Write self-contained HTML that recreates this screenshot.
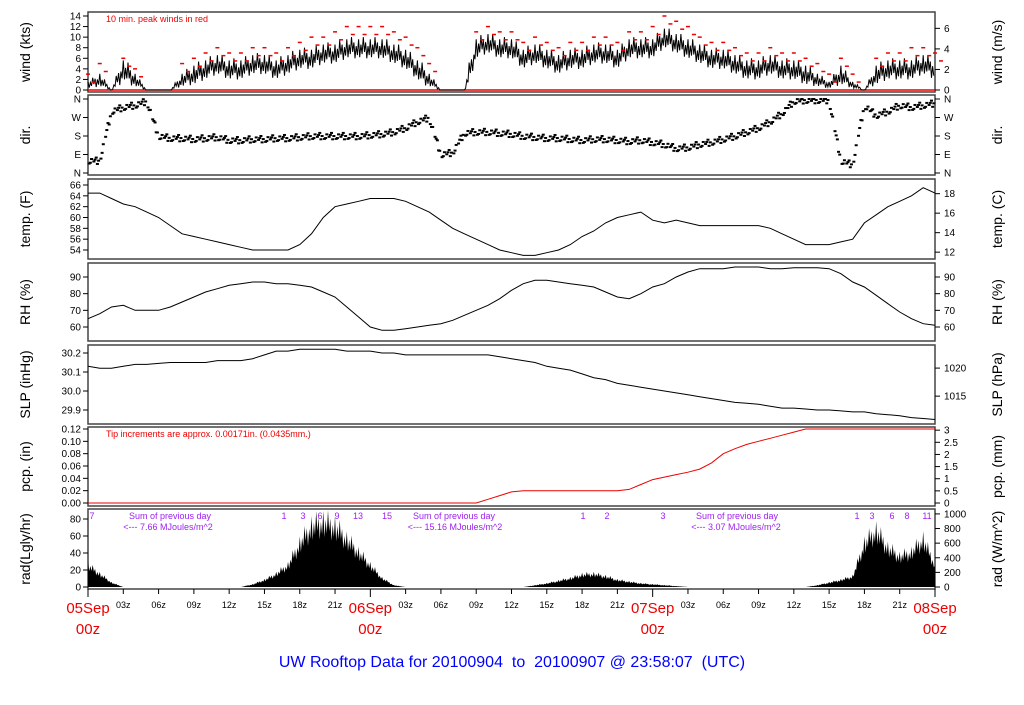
<!DOCTYPE html>
<html><head><meta charset="utf-8"><style>
body{margin:0;background:#fff;}
svg text{font-family:"Liberation Sans",sans-serif;white-space:pre;}
</style></head><body>
<svg id="c" width="1024" height="700" xmlns="http://www.w3.org/2000/svg"></svg>
<script>
const hours=[];for(let i=0;i<=72;i++)hours.push(i);
const windMean=[1,2,0,4,2,0,0,0,2,3,4,5,4,4,5,5,4,5,6,6,7,7,8,8,8,8,7,6,4,2,0,0,0,8,9,8,8,6,7,6,5,6,6,7,7,6,8,8,8,10,9,8,7,6,6,5,4,4,5,4,4,3,2,1,3,1,0,3,4,4,4,5,4];
const windPeak=[3,5,0,6,4,0,0,0,5,6,7,8,7,7,8,8,7,8,9,10,10,11,12,12,12,12,11,10,8,5,0,0,0,11,12,11,11,9,10,9,8,9,9,10,10,9,11,11,12,14,13,12,10,9,9,8,7,7,8,7,7,6,5,3,6,3,0,6,7,7,8,8,7];
const dirDeg=[60,60,300,320,330,350,180,170,170,165,170,175,160,160,165,165,170,170,175,180,180,180,180,180,185,190,200,220,250,270,90,100,195,200,200,195,190,180,175,170,170,165,160,165,165,160,155,160,150,140,120,125,140,150,165,180,200,220,250,290,350,355,355,355,60,40,330,280,300,330,320,330,340];
const tempF=[64.5,64.5,63.5,62.5,62,61,60,58.5,57,56.5,56,55.5,55,54.5,54,54,54,54,55,57,60,62,62.5,63,63.5,63.5,63.5,63,62,61,59.5,58,57,56,55,54,53.5,53,53,53.5,54,55,56.5,57.5,59,60,60.5,61,59.5,59,59.5,59,58.5,58.5,58.5,58.5,58.5,58.5,58,57,56,55,55,55,55.5,56,59,60.5,62,63,64,65.5,64.5];
const rh=[65,68,72,73,70,70,70,72,75,78,81,83,85,86,87,87,86,86,85,84,81,78,72,66,60,58,58,59,60,61,62,64,67,70,73,77,82,86,88,88,87,86,85,84,81,78,77,80,84,86,90,93,95,95,95,96,96,96,95,95,95.5,95.5,95.5,95,92,87,84,79,74,69,65,62,61];
const slp=[30.13,30.12,30.12,30.13,30.14,30.14,30.145,30.15,30.15,30.15,30.15,30.16,30.16,30.16,30.17,30.19,30.21,30.21,30.22,30.22,30.22,30.22,30.21,30.21,30.21,30.20,30.20,30.19,30.19,30.19,30.19,30.19,30.19,30.19,30.19,30.18,30.17,30.16,30.15,30.13,30.12,30.11,30.09,30.07,30.06,30.04,30.03,30.02,30.01,30.00,29.99,29.98,29.97,29.96,29.95,29.94,29.935,29.93,29.92,29.91,29.91,29.905,29.90,29.90,29.895,29.89,29.89,29.88,29.875,29.87,29.86,29.855,29.85];
const pcp=[0,0,0,0,0,0,0,0,0,0,0,0,0,0,0,0,0,0,0,0,0,0,0,0,0,0,0,0,0,0,0,0,0,0,0.006,0.012,0.018,0.02,0.02,0.02,0.02,0.02,0.02,0.02,0.02,0.02,0.022,0.03,0.038,0.042,0.046,0.05,0.055,0.065,0.08,0.088,0.095,0.1,0.105,0.11,0.115,0.12,0.12,0.12,0.12,0.12,0.12,0.12,0.12,0.12,0.12,0.12,0.12];
const rad=[25,15,5,0,0,0,0,0,0,0,0,0,0,0,3,8,15,25,50,70,75,70,55,40,25,10,2,0,0,0,0,0,0,0,0,0,0,0,2,4,7,10,14,15,12,8,6,4,3,2,1,0,0,0,0,0,0,0,0,0,0,0,2,5,8,12,50,65,45,35,40,55,25];
const timeTicks=["03z","06z","09z","12z","15z","18z","21z"];
const dateLabels=["05Sep","06Sep","07Sep","08Sep"];
{
const S=document.getElementById('c');const NS='http://www.w3.org/2000/svg';
function el(t,a,p){const e=document.createElementNS(NS,t);for(const k in a)e.setAttribute(k,a[k]);(p||S).appendChild(e);return e;}
function tx(s,x,y,a){const e=el('text',Object.assign({x:x,y:y,'font-size':10},a));e.textContent=s;return e;}
const X0=88,X1=935;const xs=h=>X0+(X1-X0)*h/72;
function lin(v0,y0,v1,y1){return v=>y0+(v-v0)*(y1-y0)/(v1-v0);}
function panel(name,ptop,pbot,lt,rt,ltitle,rtitle){
 const g=el('g',{});
 el('rect',{x:X0,y:ptop,width:X1-X0,height:pbot-ptop,fill:'none',stroke:'#444','stroke-width':1.5},g);
 lt.forEach(t=>{el('line',{x1:X0-5,x2:X0,y1:t[1],y2:t[1],stroke:'#000'},g);const e=tx(t[0],X0-7,t[1]+3.5,{'text-anchor':'end'});g.appendChild(e);});
 rt.forEach(t=>{el('line',{x1:X1,x2:X1+5,y1:t[1],y2:t[1],stroke:'#000'},g);const e=tx(t[0],X1+9,t[1]+3.5,{});g.appendChild(e);});
 const cy=(ptop+pbot)/2;
 const a=tx(ltitle,30,cy,{'font-size':14,'text-anchor':'middle',transform:`rotate(-90 30 ${cy})`});
 const b=tx(rtitle,1002,cy,{'font-size':14,'text-anchor':'middle',transform:`rotate(-90 1002 ${cy})`});
 return g;}
function line(arr,ys,col,g,w){const d=arr.map((v,i)=>(i?'L':'M')+xs(hours[i]).toFixed(1)+','+ys(v).toFixed(1)).join('');return el('path',{d:d,fill:'none',stroke:col,'stroke-width':w||1},g);}
const wig=[1.6,-1.8,0.6,-1.2,2.0,-0.8,1.0,-2.0,0.3,-1.4];

// wind
const wy=lin(0,90,14,16);
const gw=panel('wind-panel',12,92,[0,2,4,6,8,10,12,14].map(v=>[v,wy(v)]),[0,2,4,6].map(v=>[v,wy(v*1.94384)]),'wind (kts)','wind (m/s)');
el('line',{x1:X0,x2:X1,y1:wy(0),y2:wy(0),stroke:'#e00','stroke-width':1.5},gw);
let wd='';
for(let i=0;i<72;i++){for(let k=0;k<10;k++){const f=k/10;const m=windMean[i]+(windMean[i+1]-windMean[i])*f;let v=m>0.3?Math.max(0,m+wig[k]*Math.min(1,m/3)):0;wd+=(wd?'L':'M')+xs(i+f).toFixed(1)+','+wy(v).toFixed(1);}}
const wl=el('path',{d:wd,fill:'none',stroke:'#000','stroke-width':1},gw);
windPeak.forEach((v,i)=>{if(v>0){const m=el('line',{x1:xs(i)-2,x2:xs(i)+2,y1:wy(v),y2:wy(v),stroke:'#e00','stroke-width':1.5},gw);
 const m2=el('line',{x1:xs(i)+4,x2:xs(i)+8,y1:wy(v-1.5),y2:wy(v-1.5),stroke:'#e00','stroke-width':1.5},gw);}});
const wn=tx('10 min. peak winds in red',106,22,{fill:'#e00','font-size':9});

// dir
const dy=lin(0,173,360,99);
const dl=[['N',dy(0)],['E',dy(90)],['S',dy(180)],['W',dy(270)],['N',dy(360)]];
const gd=panel('dir-panel',95,175,dl,dl,'dir.','dir.');
const jd=[-14,8,-4,15,0,-10,5,-16],jx=[0.1,0.3,0.5,0.7,0.9,0.2,0.6,0.8];
dirDeg.forEach((v,i)=>{if(i===72)return;const n=dirDeg[i+1];for(let k=0;k<8;k++){const f=jx[k];let d=v+(n-v)*f+jd[k];d=Math.max(0,Math.min(360,d));
 const m=el('rect',{x:xs(i+f)-1.5,y:dy(d)-1,width:3,height:2,fill:'#000'},gd);}});

// temp
const ty=lin(54,250,66,185);const tcy=c=>ty(c*9/5+32);
const gt=panel('temp-panel',179,259,[54,56,58,60,62,64,66].map(v=>[v,ty(v)]),[12,14,16,18].map(v=>[v,tcy(v)]),'temp. (F)','temp. (C)');
const tl=line(tempF,ty,'#000',gt);

// rh
const ry=lin(60,327,90,277);
const gr=panel('rh-panel',263,341,[60,70,80,90].map(v=>[v,ry(v)]),[60,70,80,90].map(v=>[v,ry(v)]),'RH (%)','RH (%)');
const rl=line(rh,ry,'#000',gr);

// slp
const sy=lin(29.9,410,30.2,353);const hy=h=>sy(h/33.8639);
const gs=panel('slp-panel',345,424,[['29.9',sy(29.9)],['30.0',sy(30.0)],['30.1',sy(30.1)],['30.2',sy(30.2)]],[1015,1020].map(v=>[v,hy(v)]),'SLP (inHg)','SLP (hPa)');
const sl=line(slp,sy,'#000',gs);

// pcp
const py=lin(0,503,0.12,429);const pmy=mm=>py(mm/25.4);
const gp=panel('pcp-panel',427,506,[0,0.02,0.04,0.06,0.08,0.10,0.12].map(v=>[v.toFixed(2),py(v)]),[0,0.5,1,1.5,2,2.5,3].map(v=>[v,pmy(v)]),'pcp. (in)','pcp. (mm)');
const pl=line(pcp,py,'#e00',gp);
const pn=tx('Tip increments are approx. 0.00171in. (0.0435mm.)',106,437,{fill:'#e00','font-size':9});

// rad
const ray=lin(0,587,80,519);const rwy=w=>ray(w/11.63);
const gra=panel('rad-panel',509,589,[0,20,40,60,80].map(v=>[v,ray(v)]),[0,200,400,600,800,1000].map(v=>[v,rwy(v)]),'rad(Lgly/hr)','rad (W/m^2)');
let rp='M'+xs(0)+','+ray(0);
for(let i=0;i<72;i++){for(let k=0;k<10;k++){const f=k/10;const m=rad[i]+(rad[i+1]-rad[i])*f;const v=Math.max(0,m*(1+wig[k]*0.12));rp+='L'+xs(i+f).toFixed(1)+','+ray(v).toFixed(1);}}
rp+='L'+xs(72)+','+ray(rad[72])+'L'+xs(72)+','+ray(0)+'Z';
const ra=el('path',{d:rp,fill:'#000'},gra);
[['Sum of previous day',170,'<--- 7.66 MJoules/m^2',168],['Sum of previous day',454,'<--- 15.16 MJoules/m^2',455],['Sum of previous day',737,'<--- 3.07 MJoules/m^2',736]].forEach(a=>{
 const t1=tx(a[0],a[1],519,{fill:'#a020f0','font-size':9,'text-anchor':'middle'});
 const t2=tx(a[2],a[3],530,{fill:'#a020f0','font-size':9,'text-anchor':'middle'});});
[['7',92],['1',284],['3',303],['6',320],['9',337],['13',358],['15',387],['1',583],['2',607],['3',663],['1',857],['3',872],['6',892],['8',907],['11',927]].forEach(a=>{
 const t=tx(a[0],a[1],519,{fill:'#a020f0','font-size':9,'text-anchor':'middle'});});

// time axis
for(let h=0;h<=72;h+=3){const big=h%24===0;el('line',{x1:xs(h),x2:xs(h),y1:589,y2:big?597:594,stroke:'#000'});
 if(!big){const t=tx(timeTicks[(h%24)/3-1],xs(h),608,{'font-size':9,'text-anchor':'middle'});}
 else{const d=dateLabels[h/24];const a=tx(d,xs(h),613,{'font-size':15,fill:'#e00','text-anchor':'middle'});
 const b=tx('00z',xs(h),634,{'font-size':15,fill:'#e00','text-anchor':'middle'});}}
const ti=tx('UW Rooftop Data for 20100904  to  20100907 @ 23:58:07  (UTC)',512,667,{'font-size':16,fill:'#0000ff','text-anchor':'middle'});

}
</script>
</body></html>
